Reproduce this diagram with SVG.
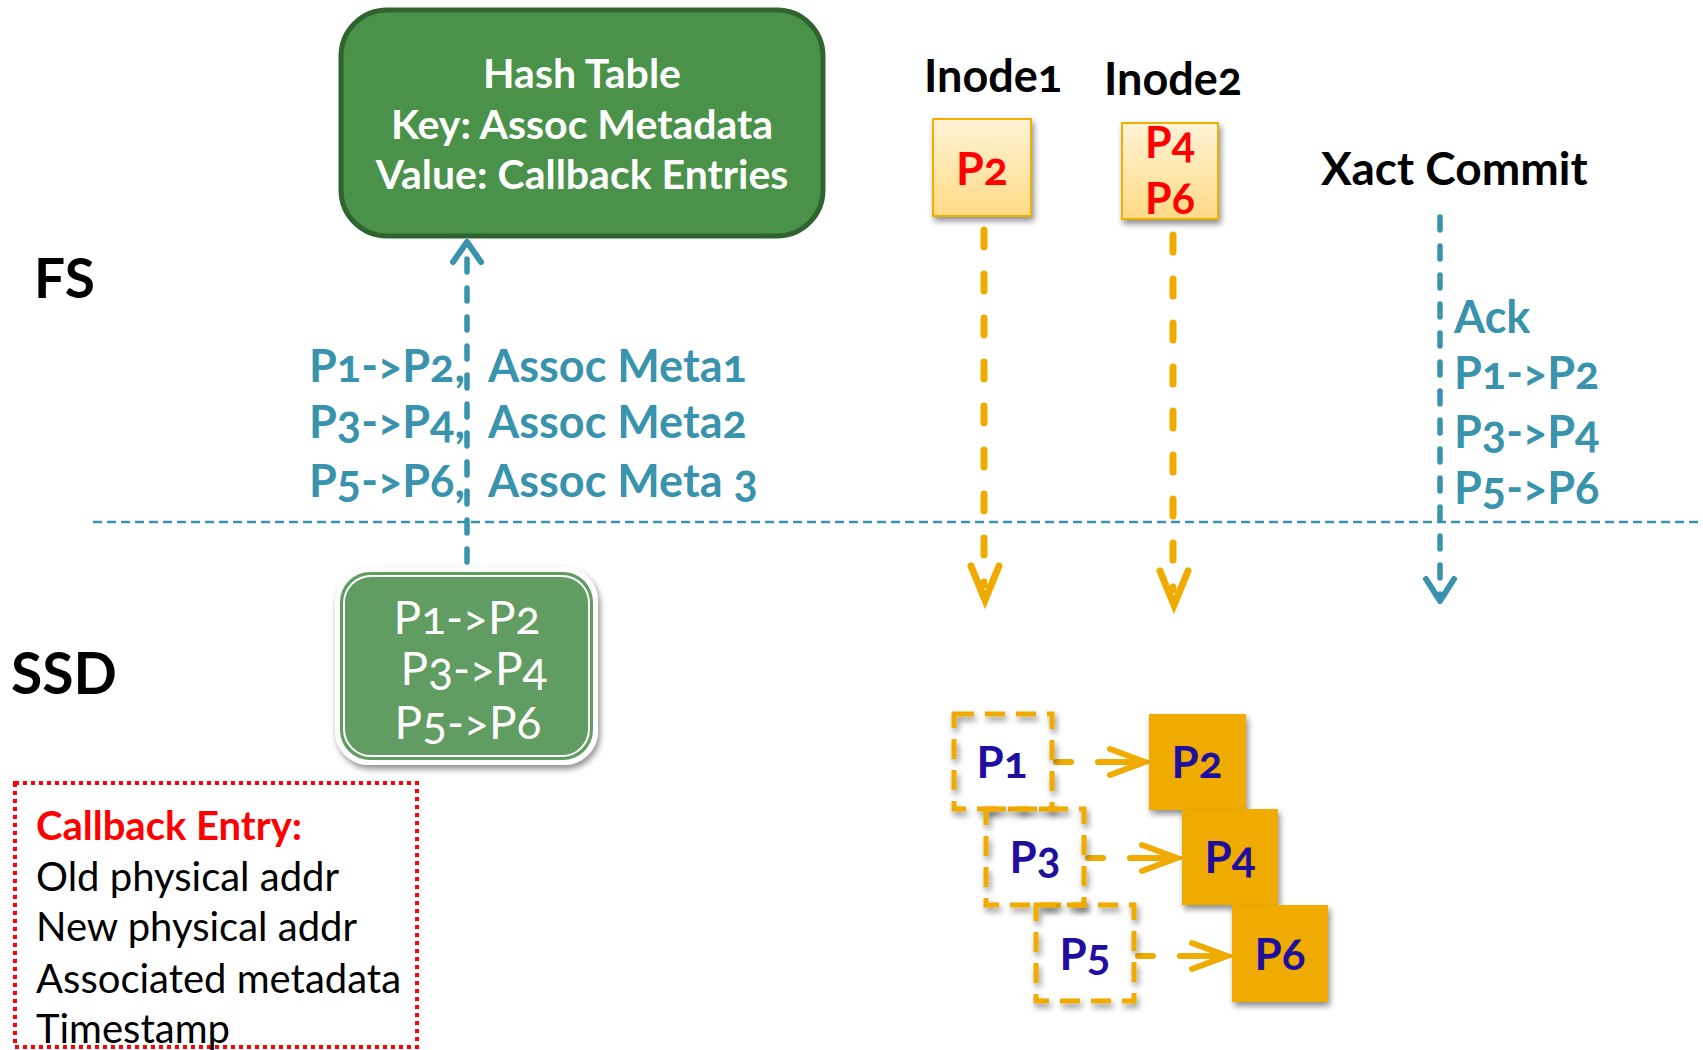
<svg xmlns="http://www.w3.org/2000/svg" width="1703" height="1050" viewBox="0 0 1703 1050">
<style>
text{font-family:Lato,"Open Sans","Liberation Sans",sans-serif;font-variant-numeric:oldstyle-nums;}
.b{font-weight:700;}
.teal{fill:#3A93AC;font-weight:700;font-size:45px;}
.wht{fill:#ffffff;}
.blk{fill:#000000;}
.red{fill:#FF0000;}
.blue{fill:#1F0F9F;font-weight:700;font-size:44px;text-anchor:middle;}
.tline{fill:none;stroke:#3A93AC;stroke-width:5.5;stroke-linecap:round;stroke-dasharray:13 16;}
.tarrow{fill:none;stroke:#3A93AC;stroke-width:6;stroke-linecap:round;stroke-linejoin:round;}
.oline{fill:none;stroke:#F0AB00;stroke-width:7;stroke-linecap:round;stroke-dasharray:17 27;}
.oarrow{fill:none;stroke:#F0AB00;stroke-width:7;stroke-linecap:round;stroke-linejoin:miter;}
.ohl{fill:none;stroke:#F0AB00;stroke-width:6;stroke-linecap:round;stroke-linejoin:miter;}
.dbox{fill:none;stroke:#F0AB00;stroke-width:5;stroke-dasharray:20 11;}
.sbox{fill:#F0AB00;}
</style>
<defs>
<filter id="sh" x="-20%" y="-20%" width="150%" height="150%">
<feGaussianBlur in="SourceAlpha" stdDeviation="3"/>
<feOffset dx="2" dy="4" result="o"/>
<feComponentTransfer><feFuncA type="linear" slope="0.45"/></feComponentTransfer>
<feMerge><feMergeNode/><feMergeNode in="SourceGraphic"/></feMerge>
</filter>
<linearGradient id="yg" x1="0" y1="0" x2="0" y2="1">
<stop offset="0" stop-color="#FFF3D6"/>
<stop offset="1" stop-color="#FFDA86"/>
</linearGradient>
</defs>
<rect width="1703" height="1050" fill="#ffffff"/>

<g id="labels">
<text x="34" y="298" class="b blk" font-size="55">FS</text>
<text x="11" y="694" class="b blk" font-size="57">SSD</text>
</g>

<g id="hash-table">
<rect x="341" y="10" width="482" height="226" rx="46" fill="#4A9249" stroke="#2F6430" stroke-width="5"/>
<text x="582" y="88" class="b wht" font-size="41" text-anchor="middle">Hash Table</text>
<text x="582" y="139" class="b wht" font-size="41" text-anchor="middle">Key: Assoc Metadata</text>
<text x="582" y="189" class="b wht" font-size="41" text-anchor="middle">Value: Callback Entries</text>
</g>

<g id="inode1">
<text x="924" y="92" class="b blk" font-size="45">Inode1</text>
<rect x="933" y="119" width="98" height="97" fill="url(#yg)" stroke="#F0B000" stroke-width="2" filter="url(#sh)"/>
<text x="982" y="185" class="b red" font-size="45" text-anchor="middle">P2</text>
</g>

<g id="inode2">
<text x="1104" y="95" class="b blk" font-size="45">Inode2</text>
<rect x="1122" y="123" width="96" height="96" fill="url(#yg)" stroke="#F0B000" stroke-width="2" filter="url(#sh)"/>
<text x="1170" y="158" class="b red" font-size="43" text-anchor="middle">P4</text>
<text x="1170" y="214" class="b red" font-size="43" text-anchor="middle">P6</text>
</g>

<g id="xact-commit">
<text x="1321" y="185" class="b blk" font-size="46">Xact Commit</text>
<text x="1454" y="333" class="teal">Ack</text>
<text x="1454" y="389" class="teal">P1-&gt;P2</text>
<text x="1454" y="448" class="teal">P3-&gt;P4</text>
<text x="1454" y="504" class="teal">P5-&gt;P6</text>
</g>

<g id="fs-labels">
<text x="309" y="382" class="teal">P1-&gt;P2,</text>
<text x="309" y="438" class="teal">P3-&gt;P4,</text>
<text x="309" y="497" class="teal">P5-&gt;P6,</text>
<text x="488" y="382" class="teal">Assoc Meta1</text>
<text x="488" y="438" class="teal">Assoc Meta2</text>
<text x="488" y="497" class="teal">Assoc Meta 3</text>
</g>

<g id="connectors">
<line x1="93" y1="522" x2="1703" y2="522" stroke="#3A93AC" stroke-width="2.5" stroke-dasharray="9 5"/>
<line x1="467" y1="562" x2="467" y2="250" class="tline"/>
<polyline points="453,262 467,242 481,262" class="tarrow"/>
<line x1="1440" y1="217" x2="1440" y2="598" class="tline"/>
<polyline points="1426,579 1440,601 1454,579" class="tarrow"/>
<line x1="984" y1="230" x2="984" y2="585" class="oline"/>
<polyline points="971,566 985,600 999,566" class="oarrow"/>
<line x1="1173" y1="235" x2="1173" y2="590" class="oline"/>
<polyline points="1160,571 1174,605 1188,571" class="oarrow"/>
<g id="map1">
<line x1="1056" y1="762" x2="1071" y2="762" class="ohl"/>
<line x1="1098" y1="762" x2="1143" y2="762" class="ohl"/>
<polyline points="1110,749 1145,762 1110,775" class="ohl"/>
</g>
<g id="map2" transform="translate(32,96)">
<line x1="1056" y1="762" x2="1071" y2="762" class="ohl"/>
<line x1="1098" y1="762" x2="1143" y2="762" class="ohl"/>
<polyline points="1110,749 1145,762 1110,775" class="ohl"/>
</g>
<g id="map3" transform="translate(82,194)">
<line x1="1056" y1="762" x2="1071" y2="762" class="ohl"/>
<line x1="1098" y1="762" x2="1143" y2="762" class="ohl"/>
<polyline points="1110,749 1145,762 1110,775" class="ohl"/>
</g>
</g>

<g id="ssd-box">
<rect x="335" y="567" width="263" height="198" rx="34" fill="#ffffff" filter="url(#sh)"/>
<rect x="340" y="572" width="253" height="188" rx="30" fill="#619D62"/>
<rect x="344" y="576" width="245" height="180" rx="27" fill="none" stroke="#ffffff" stroke-width="2"/>
<text x="467" y="634" class="wht" font-size="46" text-anchor="middle">P1-&gt;P2</text>
<text x="474" y="685" class="wht" font-size="46" text-anchor="middle">P3-&gt;P4</text>
<text x="468" y="739" class="wht" font-size="46" text-anchor="middle">P5-&gt;P6</text>
</g>

<g id="callback-entry">
<rect x="15" y="783" width="402" height="264" fill="none" stroke="#FF0000" stroke-width="4" stroke-dasharray="4 4"/>
<text x="36" y="840" class="b red" font-size="40">Callback Entry:</text>
<text x="36" y="891" class="blk" font-size="40">Old physical addr</text>
<text x="36" y="941" class="blk" font-size="40">New physical addr</text>
<text x="36" y="993" class="blk" font-size="40">Associated metadata</text>
<text x="36" y="1043" class="blk" font-size="40">Timestamp</text>
</g>

<g id="p1">
<rect x="954" y="714" width="98" height="95" class="dbox" filter="url(#sh)"/>
<text x="1002" y="778" class="blue">P1</text>
</g>
<g id="p3">
<rect x="986" y="809" width="98" height="96" class="dbox" filter="url(#sh)"/>
<text x="1035" y="873" class="blue">P3</text>
</g>
<g id="p5">
<rect x="1036" y="905" width="98" height="96" class="dbox" filter="url(#sh)"/>
<text x="1085" y="970" class="blue">P5</text>
</g>
<g id="p2">
<rect x="1149" y="714" width="97" height="96" class="sbox" filter="url(#sh)"/>
<text x="1197" y="778" class="blue">P2</text>
</g>
<g id="p4">
<rect x="1182" y="809" width="96" height="96" class="sbox" filter="url(#sh)"/>
<text x="1230" y="873" class="blue">P4</text>
</g>
<g id="p6">
<rect x="1232" y="905" width="96" height="97" class="sbox" filter="url(#sh)"/>
<text x="1280" y="970" class="blue">P6</text>
</g>
</svg>
